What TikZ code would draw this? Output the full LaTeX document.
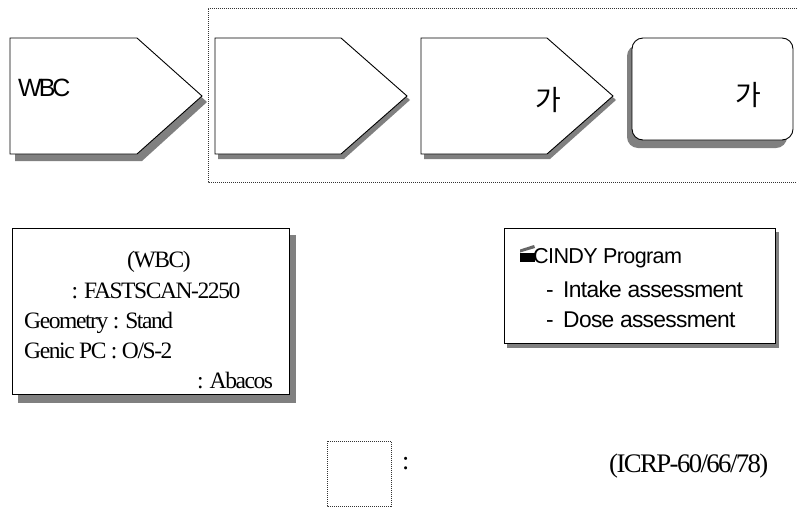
\documentclass[tikz,border=0pt]{standalone}
\usepackage{fontspec}
\setmainfont{Liberation Serif}
\setsansfont{Liberation Sans}
\newfontfamily\krfont{Noto Sans CJK KR}
\newfontfamily\serifT[LetterSpace=-6]{Liberation Serif}
\newfontfamily\sansT[LetterSpace=-3]{Liberation Sans}
\newfontfamily\sansW[LetterSpace=-12]{Liberation Sans}
\definecolor{shadowgray}{gray}{0.5}
\tikzset{
  outline/.style={draw=black,line width=0.9pt,fill=white,line join=miter},
  shade box/.style={fill=shadowgray,draw=none},
  dotbox/.style={draw=black!80,line width=0.8pt,dotted,dash pattern=on 1pt off 1pt},
  stext/.style={inner sep=0pt,font=\serifT\fontsize{23.5}{25}\selectfont,anchor=base west},
  atext/.style={inner sep=0pt,font=\sansT\fontsize{22.8}{25}\selectfont,anchor=base west},
  kr/.style={inner sep=0pt,font=\krfont\fontsize{28}{30}\selectfont}
}
\begin{document}
\begin{tikzpicture}[x=1pt,y=-1pt]
\useasboundingbox (0,0) rectangle (797,507);
% dotted frame
\draw[dotbox] (797,8) -- (208,8) -- (208,182) -- (797,182);
% pentagon 1
\fill[shade box] (15,44) -- (142,44) -- (207,102) -- (142,161) -- (15,161) -- cycle;
\draw[outline] (10,38) -- (137,38) -- (202,96) -- (137,154) -- (10,154) -- cycle;
\node[atext,font=\sansW\fontsize{25}{27}\selectfont] (wbc) at (18,96) {WBC};
% pentagon 2
\fill[shade box] (218,42) -- (344,42) -- (410,100) -- (344,159) -- (218,159) -- cycle;
\draw[outline] (215,38) -- (341,38) -- (407,96) -- (341,154) -- (215,154) -- cycle;
% pentagon 3
\fill[shade box] (424,42) -- (550,42) -- (616,100) -- (550,159) -- (424,159) -- cycle;
\draw[outline] (421,38) -- (547,38) -- (613,96) -- (547,154) -- (421,154) -- cycle;
\node[kr] (ga1) at (548,100) {가};
% rounded box
\fill[shade box,rounded corners=11pt] (627,45) rectangle (787,148);
\draw[outline,rounded corners=11pt] (632,38) rectangle (793,140);
\node[kr] (ga2) at (748,95) {가};
% box 1
\fill[shade box] (18,235) rectangle (296,403);
\draw[outline] (12,228) rectangle (289,394);
\node[stext,anchor=base] (t1) at (159,267) {(WBC)};
\node[stext,anchor=base] (t2) at (156,298) {: FASTSCAN-2250};
\node[stext] (t3) at (24,328) {Geometry : Stand};
\node[stext] (t4) at (24,358) {Genic PC : O/S-2};
\node[stext] (t5) at (197,388) {: Abacos};
% box 2
\fill[shade box] (507,232) rectangle (779,348);
\draw[outline] (504,228) rectangle (775,343);
\fill[black] (520,253) rectangle (535,262);
\fill[black!60] (520,249.5) -- (534,245) -- (535,248) -- (520,252.5) -- cycle;
\node[atext,font=\sansT\fontsize{21.6}{25}\selectfont] (c1) at (533,263) {CINDY Program};
\node[atext] (c2d) at (546,297) {-};
\node[atext] (c2) at (563,297) {Intake assessment};
\node[atext] (c3d) at (546,327) {-};
\node[atext] (c3) at (563,327) {Dose assessment};
% legend
\draw[dotbox] (327,441) rectangle (391,506);
\node[stext,font=\serifT\fontsize{26}{28}\selectfont] (colon) at (402,469) {:};
\node[stext,font=\serifT\fontsize{26.8}{28}\selectfont] (icrp) at (609,472) {(ICRP-60/66/78)};
\end{tikzpicture}
\end{document}
